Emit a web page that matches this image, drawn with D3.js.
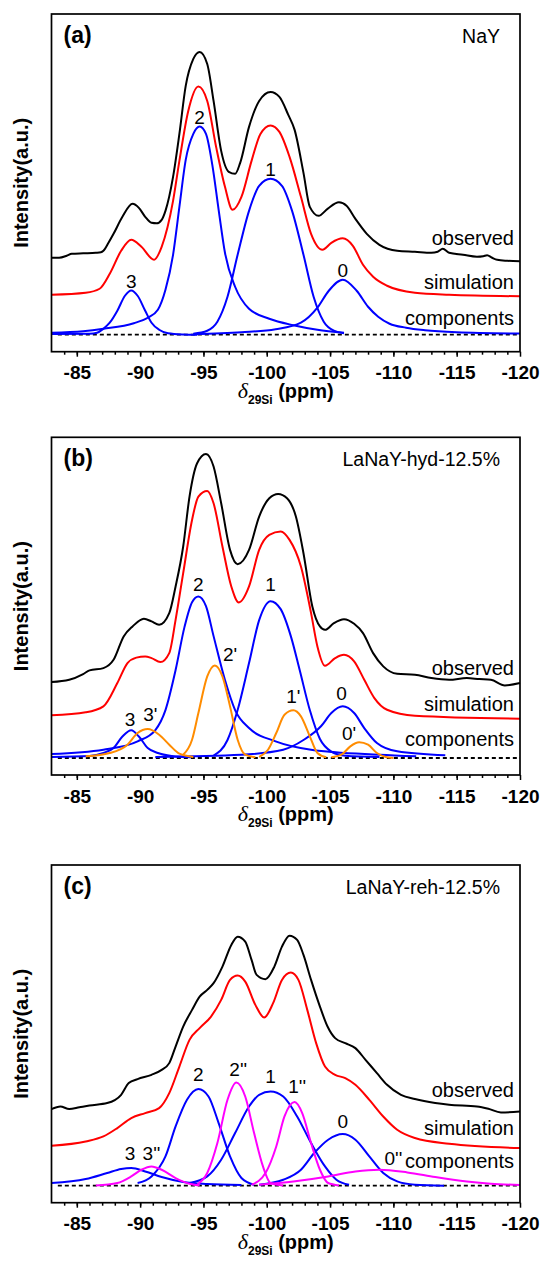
<!DOCTYPE html>
<html>
<head>
<meta charset="utf-8">
<script src="https://cdn.jsdelivr.net/npm/d3@7"></script>
<style>
  body { margin: 0; background: #fff; }
  svg { display: block; font-family: "Liberation Sans", Arial, sans-serif; }
</style>
</head>
<body>
<script>
// tick values and panel text
var majorTicks = [-85, -90, -95, -100, -105, -110, -115, -120];
var panelTags = ["(a)", "(b)", "(c)"];
var sampleNames = ["NaY", "LaNaY-hyd-12.5%", "LaNaY-reh-12.5%"];
var seriesNames = ["observed", "simulation", "components"];

// ---- panel (a) NaY : [ppm, intensity] ----
var observedA = [[-83.0,77],[-83.6,77],[-84.2,79],[-84.6,81],[-85.5,81.5],[-86.5,82],[-86.9,82.5],[-87.1,84],[-87.5,92],[-87.9,101],[-88.6,118],[-89.4,131],[-89.9,127],[-90.4,118],[-90.9,112],[-91.3,111.5],[-91.7,115],[-92.0,124],[-92.6,158],[-93.1,201],[-93.6,249],[-94.2,276],[-94.7,283],[-95.3,271],[-95.8,234],[-96.4,184],[-97.0,163],[-97.5,161],[-97.9,172],[-98.6,208],[-99.4,234],[-100.3,243],[-101.0,238],[-101.7,220],[-102.2,205],[-102.9,162],[-103.4,128],[-104.1,119],[-104.8,126],[-105.7,132.5],[-106.3,129],[-107.0,116],[-107.9,101],[-108.9,90],[-110.3,84],[-111.7,83],[-113.0,82],[-113.5,83],[-113.9,86],[-114.4,82],[-115.5,80],[-116.6,78],[-117.1,78.5],[-117.4,79.5],[-117.8,77],[-118.2,75],[-119.0,74],[-120.0,73.5]];
var simulationA = [[-83.0,40],[-85.7,42],[-86.8,46],[-87.6,61],[-88.5,84],[-89.3,95],[-90.1,88],[-91.1,75],[-91.7,88],[-92.6,134],[-93.1,174],[-93.8,224],[-94.6,248.5],[-95.3,234],[-96.0,188],[-96.7,148],[-97.3,125],[-98.0,138],[-98.8,174],[-99.5,201],[-100.3,209.5],[-101.0,203],[-101.8,178],[-102.7,138],[-103.5,101],[-104.4,85],[-105.1,92],[-106.0,96.5],[-106.8,89],[-107.6,70],[-108.4,58],[-109.5,49],[-111.7,42],[-114.4,40],[-120.0,38.5]];
var componentNamesA = ["3", "2", "1", "0"];
var componentsA = [
  [[-83.0,0.8],[-86.0,1],[-86.6,2],[-87.1,6],[-87.6,12],[-88.2,24],[-88.8,39],[-89.3,44.3],[-89.8,39],[-90.4,24],[-90.9,12],[-91.5,5],[-92.2,1.5],[-93.4,0.3],[-94.5,0]],
  [[-83.0,2],[-85.5,3.5],[-87.1,6],[-89.5,11.5],[-90.6,17],[-91.4,25],[-92.0,45],[-92.6,80],[-93.1,128],[-93.6,175],[-94.2,201],[-94.7,208.3],[-95.2,201],[-95.7,170],[-96.2,125],[-96.7,82],[-97.5,48],[-98.6,26],[-100.2,16],[-102.1,9.5],[-104.0,5],[-106.1,2]],
  [[-94.2,1],[-95.3,4],[-96.1,13],[-96.9,38],[-97.7,80],[-98.6,124],[-99.4,149],[-100.3,156],[-101.2,149],[-102.0,124],[-102.9,80],[-103.7,38],[-104.5,13],[-105.3,4],[-106.1,1.5]],
  [[-94.2,0.5],[-98.0,2.5],[-100.7,5.5],[-102.7,12],[-104.0,27],[-104.9,44],[-106.0,55],[-107.1,44],[-108.0,28],[-108.8,18],[-109.7,11],[-111.0,7],[-112.5,4.5],[-115.0,2.5],[-120.0,1.2]]
];
var peakLabelsA = [["3",-89.3,47],["2",-94.7,211],["1",-100.3,159],["0",-106.0,58]];
var seriesLabelYA = [89.3, 46, 9.3];

// ---- panel (b) LaNaY-hyd-12.5% ----
var observedB = [[-83.0,76],[-84.4,78.3],[-85.5,84],[-86.0,87.7],[-87.1,90],[-87.9,98.3],[-88.7,121.7],[-89.4,131.7],[-90.3,139.3],[-90.9,136.7],[-91.5,133.3],[-92.3,145],[-92.8,171.7],[-93.4,211.7],[-93.9,261.7],[-94.5,295],[-95.2,304.3],[-95.8,291.7],[-96.4,255],[-97.1,208.3],[-97.7,194],[-98.6,208.3],[-99.4,241.7],[-100.2,260],[-100.9,264.3],[-101.6,260],[-102.3,241.7],[-102.9,205],[-103.6,151.7],[-104.2,131.7],[-104.6,128.3],[-105.3,135],[-106.1,139],[-106.9,134.3],[-107.6,125],[-108.4,105],[-109.2,91.7],[-110.3,84.3],[-111.7,83.3],[-113.0,80],[-114.4,78.3],[-115.8,80],[-116.8,79],[-117.7,78.3],[-118.8,72.7],[-120.0,75]];
var simulationB = [[-83.0,42.7],[-85.7,45.7],[-87.1,51.7],[-88.2,75],[-89.0,95],[-89.7,100.5],[-90.4,101.7],[-90.9,100],[-91.6,96],[-92.3,105],[-92.8,138.3],[-93.4,185],[-94.1,238.3],[-94.6,261.7],[-95.3,267.3],[-95.8,255],[-96.5,211.7],[-97.2,171.7],[-97.8,155.7],[-98.6,171.7],[-99.4,208.3],[-100.2,223.3],[-101.1,226.7],[-101.8,218.3],[-102.7,191.7],[-103.5,145],[-104.0,111.7],[-104.6,92.3],[-105.4,100],[-106.1,103.3],[-106.9,96.7],[-107.7,78.3],[-108.5,60],[-109.5,48.3],[-111.7,42.3],[-120.0,39.3]];
var componentNamesB = ["3", "2", "1", "0", "3'", "2'", "1'", "0'"];
var componentsB = [
  [[-83.0,1],[-86.0,2],[-87.1,5],[-87.9,10],[-88.6,21.5],[-89.3,27.7],[-89.9,21.5],[-90.6,10],[-91.4,5],[-92.5,2],[-94.0,0.7]],
  [[-83.0,4],[-87.1,8.3],[-89.8,16.7],[-91.2,28],[-92.0,48],[-92.8,88],[-93.5,131],[-94.1,156],[-94.6,161.7],[-95.2,152],[-95.8,122],[-96.7,78],[-97.5,48],[-98.6,30],[-100.7,16.7],[-103.5,8.3],[-108.9,3.3],[-111.8,1.7]],
  [[-95.8,2.5],[-96.9,18],[-97.7,48],[-98.6,95],[-99.4,138],[-100.3,157],[-101.1,149],[-101.9,122],[-102.6,88],[-103.4,48],[-104.2,19],[-105.1,6.5],[-106.2,2.3],[-108.9,1]],
  [[-91.2,1],[-98.0,3.3],[-101.3,8.3],[-102.9,18],[-104.3,32],[-105.1,45],[-106.0,51.7],[-106.9,45],[-107.7,30],[-108.7,15],[-110.3,6.7],[-114.1,2.7]],
  [[-85.7,1.7],[-87.6,5],[-89.0,13.3],[-89.8,25],[-90.6,29],[-91.5,23.3],[-92.3,13.3],[-93.1,4.3],[-94.2,1]],
  [[-93.4,3.3],[-94.1,18.3],[-94.6,45],[-95.3,81.7],[-95.9,92.7],[-96.5,81.7],[-97.1,51.7],[-97.7,18.3],[-98.3,3.3],[-99.1,0.7]],
  [[-99.4,1],[-100.1,8.3],[-100.75,25],[-101.4,43.3],[-102.1,47.7],[-102.7,41.7],[-103.4,21.7],[-104.0,5],[-104.7,0.7]],
  [[-105.1,0.7],[-105.9,3.3],[-106.6,11.7],[-107.3,15.7],[-108.0,13.3],[-108.7,5],[-109.4,1],[-110.0,0]]
];
var peakLabelsB = [["3",-89.2,32],["3'",-90.8,37],["2",-94.6,167],["2'",-97.1,97],["1",-100.3,167],["1'",-102.1,55],["0",-105.9,58],["0'",-106.5,18.5]];
var seriesLabelYB = [83.3, 46.6, 12.3];

// ---- panel (c) LaNaY-reh-12.5% ----
var observedC = [[-83.0,76.7],[-83.7,79.3],[-84.4,76.7],[-85.2,78.5],[-86.0,80.3],[-87.4,82.7],[-88.5,91],[-89.1,102.7],[-89.8,106.7],[-90.9,111],[-91.7,116],[-92.3,122.7],[-92.8,139.3],[-93.4,159.3],[-94.1,176],[-94.7,189.3],[-95.3,196],[-95.8,202.7],[-96.5,219.3],[-97.2,241],[-97.7,249.3],[-98.3,244.3],[-98.8,226],[-99.2,211],[-99.9,206.7],[-100.6,219.3],[-101.2,239.3],[-101.8,250.3],[-102.4,246],[-102.9,231],[-103.5,206],[-104.2,179.3],[-104.8,159.3],[-105.4,147.7],[-106.2,142.7],[-107.0,137.7],[-107.8,126],[-108.7,112.7],[-109.5,101],[-110.6,91],[-111.7,86.7],[-113.3,82.7],[-114.4,81],[-116.6,79.3],[-117.5,77],[-118.5,73.3],[-120.0,74.3]];
var simulationC = [[-83.0,40],[-85.7,44.3],[-87.1,49.3],[-88.2,57.7],[-89.3,67.7],[-90.4,72.7],[-91.5,77.7],[-92.3,92.7],[-93.1,119.3],[-93.9,146],[-94.7,157.7],[-95.6,169.3],[-96.4,186],[-97.1,206],[-97.7,210.3],[-98.3,204.3],[-99.1,181],[-99.8,168.3],[-100.5,182.7],[-101.2,206],[-101.9,213.3],[-102.5,206],[-103.2,176],[-103.9,142.7],[-104.6,119.3],[-105.4,111],[-106.2,107.7],[-107.0,101],[-108.1,86],[-109.2,69.3],[-110.3,56],[-111.7,47.7],[-114.4,42],[-120.0,37.7]];
var componentNamesC = ["3", "2", "1", "0", "3''", "2''", "1''", "0''"];
var componentsC = [
  [[-83.0,2.7],[-85.7,6.7],[-87.4,12.7],[-88.5,16.7],[-89.3,17.7],[-90.4,14.3],[-91.7,8.7],[-93.4,3.7],[-95.3,1.7],[-98.0,0.7]],
  [[-89.8,2.7],[-90.9,9.3],[-92.0,29.3],[-92.8,59.3],[-93.7,86],[-94.6,96.7],[-95.4,89.3],[-96.2,62.7],[-97.1,29.3],[-98.0,7.7],[-99.0,1]],
  [[-93.9,2.7],[-95.3,9.3],[-96.4,26],[-97.5,52.7],[-98.6,79.3],[-99.4,91],[-100.3,94.3],[-101.3,89.3],[-102.4,69.3],[-103.5,42.7],[-104.6,19.3],[-105.5,6],[-106.5,1]],
  [[-99.4,1],[-101.3,6],[-102.7,16],[-103.75,32.7],[-104.85,46],[-106.0,51.7],[-107.0,46],[-108.1,29.3],[-109.2,12.7],[-110.3,4.3],[-111.7,1],[-114.0,0]],
  [[-86.5,0.3],[-88.2,2.7],[-89.3,9.3],[-90.1,16],[-90.9,19.3],[-91.7,16],[-92.8,7.7],[-93.9,2],[-94.7,0.3]],
  [[-94.5,1],[-95.3,12.7],[-96.1,42.7],[-96.9,86],[-97.6,103.3],[-98.3,89.3],[-99.0,52.7],[-99.7,19.3],[-100.3,2.7],[-101.3,0.3]],
  [[-98.8,1],[-99.9,12.7],[-100.75,39.3],[-101.4,69.3],[-102.2,83.7],[-102.8,72.7],[-103.5,42.7],[-104.2,16],[-104.85,2.7],[-105.7,0.3]],
  [[-99.4,1],[-102.1,4.3],[-104.85,9.3],[-107.0,14.3],[-108.9,16],[-111.1,13.3],[-113.3,8.7],[-115.8,4.3],[-117.7,2],[-120.0,0.7]]
];
var peakLabelsC = [["3",-89.2,26],["3''",-90.9,26],["2",-94.6,104.5],["2''",-97.75,109.5],["1",-100.3,103],["1''",-102.4,93],["0",-106.0,58],["0''",-110.0,21]];
var seriesLabelYC = [88.7, 51, 17.7];

// layout
var width = 542, height = 1263;
var frame = {left: 51.5, right: 520, height: 337.7};
var panelTops = [14, 437.3, 865];

var panels = [
  {observed: observedA, simulation: simulationA, components: componentsA, names: componentNamesA, labels: peakLabelsA, seriesY: seriesLabelYA, primeColor: "#0000ff"},
  {observed: observedB, simulation: simulationB, components: componentsB, names: componentNamesB, labels: peakLabelsB, seriesY: seriesLabelYB, primeColor: "#ff8c00"},
  {observed: observedC, simulation: simulationC, components: componentsC, names: componentNamesC, labels: peakLabelsC, seriesY: seriesLabelYC, primeColor: "#ff00ff"}
];

// setup x
var xScale = d3.scaleLinear().domain([-83, -120]).range([frame.left, frame.right]);
// setup y (baseline of the components is 0)
var yScale = d3.scaleLinear().domain([-17, 321]).range([frame.height, 0]);

var line = d3.line()
    .x(d => xScale(d[0]))
    .y(d => yScale(d[1]))
    .curve(d3.curveMonotoneX);

var svg = d3.select("body").append("svg")
    .attr("width", width)
    .attr("height", height);

panels.forEach(function(p, i) {
  var g = svg.append("g")
      .attr("transform", "translate(0," + panelTops[i] + ")");

  // dashed zero line
  g.append("line")
    .attr("x1", xScale(-83.5))
    .attr("x2", xScale(-120))
    .attr("y1", yScale(0))
    .attr("y2", yScale(0))
    .attr("stroke", "#000")
    .attr("stroke-width", 1.8)
    .attr("stroke-dasharray", "4,3");

  // fitted components
  g.selectAll(".comp")
    .data(p.components)
    .enter()
    .append("path")
    .attr("class", "comp")
    .attr("d", line)
    .attr("fill", "none")
    .attr("stroke", function(d, j) { return p.names[j].indexOf("'") >= 0 ? p.primeColor : "#0000ff"; })
    .attr("stroke-width", 2);

  g.append("path")
    .attr("d", line(p.simulation))
    .attr("fill", "none")
    .attr("stroke", "#ff0000")
    .attr("stroke-width", 2);

  g.append("path")
    .attr("d", line(p.observed))
    .attr("fill", "none")
    .attr("stroke", "#000")
    .attr("stroke-width", 2);

  // peak labels
  g.selectAll(".peak")
    .data(p.labels)
    .enter()
    .append("text")
    .attr("class", "peak")
    .attr("x", d => xScale(d[1]))
    .attr("y", d => yScale(d[2]))
    .attr("text-anchor", "middle")
    .style("font-size", "19px")
    .text(d => d[0]);

  // curve names on the right
  g.selectAll(".series")
    .data(seriesNames)
    .enter()
    .append("text")
    .attr("class", "series")
    .attr("x", frame.right - 6)
    .attr("y", (d, j) => yScale(p.seriesY[j]))
    .attr("text-anchor", "end")
    .style("font-size", "20px")
    .text(d => d);

  g.append("text")
    .attr("x", 63.5)
    .attr("y", 28.5)
    .style("font-size", "23px")
    .style("font-weight", "bold")
    .text(panelTags[i]);

  g.append("text")
    .attr("x", 500)
    .attr("y", 29)
    .attr("text-anchor", "end")
    .style("font-size", "19.5px")
    .text(sampleNames[i]);

  // minor ticks
  g.append("g")
    .attr("transform", "translate(0," + frame.height + ")")
    .call(d3.axisBottom(xScale).tickValues(d3.range(-84, -120, -1)).tickSize(3).tickSizeOuter(0).tickFormat(""))
    .call(a => a.select(".domain").remove())
    .call(a => a.selectAll("line").attr("stroke-width", 1.5));

  // x-axis
  g.append("g")
    .attr("transform", "translate(0," + frame.height + ")")
    .call(d3.axisBottom(xScale).tickValues(majorTicks).tickSize(5).tickSizeOuter(0).tickFormat(d => String(d)))
    .call(a => a.select(".domain").remove())
    .call(a => a.selectAll("line").attr("stroke-width", 1.5))
    .call(a => a.selectAll("text")
      .attr("y", 27.5)
      .attr("dy", null)
      .attr("fill", "#000")
      .style("font-family", "'Liberation Sans', Arial, sans-serif")
      .style("font-size", "19px")
      .style("font-weight", "bold"));

  // frame
  g.append("rect")
    .attr("x", frame.left)
    .attr("y", 0)
    .attr("width", frame.right - frame.left)
    .attr("height", frame.height)
    .attr("fill", "none")
    .attr("stroke", "#000")
    .attr("stroke-width", 1.7);

  // x label
  var xl = g.append("text")
    .attr("x", (frame.left + frame.right) / 2)
    .attr("y", frame.height + 46)
    .attr("text-anchor", "middle")
    .style("font-size", "20px")
    .style("font-weight", "bold");
  xl.append("tspan")
    .style("font-family", "'Liberation Serif', serif")
    .style("font-style", "italic")
    .style("font-weight", "normal")
    .style("font-size", "22px")
    .text("\u03b4");
  xl.append("tspan")
    .attr("dy", 6)
    .style("font-size", "12px")
    .text("29Si");
  xl.append("tspan")
    .attr("dy", -6)
    .text(" (ppm)");

  // y label
  g.append("text")
    .attr("transform", "translate(28," + (frame.height / 2) + ") rotate(-90)")
    .attr("text-anchor", "middle")
    .style("font-size", "20px")
    .style("font-weight", "bold")
    .text("Intensity(a.u.)");
});
</script>
</body>
</html>
